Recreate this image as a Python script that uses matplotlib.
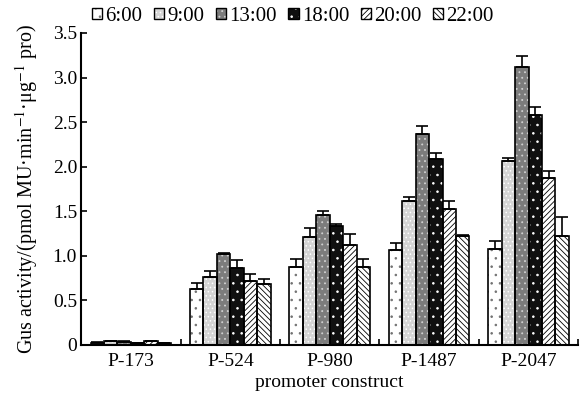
import numpy as np
import matplotlib
matplotlib.use("Agg")
import matplotlib.pyplot as plt
from matplotlib.patches import Patch
from matplotlib.legend_handler import HandlerTuple

plt.rcParams['font.family'] = ['Liberation Serif', 'DejaVu Serif']
plt.rcParams['mathtext.fontset'] = 'stix'
plt.rcParams['hatch.linewidth'] = 0.6

# Data
constructs = ['P-173', 'P-524', 'P-980', 'P-1487', 'P-2047']
times = ['6:00', '9:00', '13:00', '18:00', '20:00', '22:00']

# mean values per time point (one value per construct)
v_0600 = [0.02, 0.63, 0.87, 1.06, 1.08]
v_0900 = [0.04, 0.76, 1.21, 1.61, 2.06]
v_1300 = [0.03, 1.02, 1.46, 2.37, 3.12]
v_1800 = [0.02, 0.86, 1.33, 2.09, 2.58]
v_2000 = [0.04, 0.72, 1.12, 1.53, 1.87]
v_2200 = [0.02, 0.68, 0.87, 1.22, 1.22]

# upper error bars
e_0600 = [0.01, 0.07, 0.09, 0.08, 0.09]
e_0900 = [0.01, 0.07, 0.10, 0.05, 0.04]
e_1300 = [0.01, 0.01, 0.04, 0.09, 0.12]
e_1800 = [0.005, 0.09, 0.03, 0.06, 0.09]
e_2000 = [0.01, 0.08, 0.12, 0.09, 0.08]
e_2200 = [0.005, 0.06, 0.09, 0.01, 0.22]

values = [v_0600, v_0900, v_1300, v_1800, v_2000, v_2200]
errors = [e_0600, e_0900, e_1300, e_1800, e_2000, e_2200]

# face colour, hatch pattern, hatch colour for each time point
styles = [
    ('white', '..', '#707070'),
    ('#d4d4d4', '....', 'white'),
    ('#7c7c7c', '...', '#d0d0d0'),
    ('#101010', '..', 'white'),
    ('white', '//////', 'black'),
    ('white', '\\\\\\\\\\\\', 'black'),
]

fig = plt.figure(figsize=(5.8, 3.97), dpi=100)
ax = fig.add_axes([0.14, 0.131, 0.857, 0.786])

n = len(times)
width = 0.135
x = np.arange(len(constructs)) + 0.5

handles = []
for i in range(n):
    pos = x + (i - (n - 1) / 2) * width
    face, hatch, hcol = styles[i]
    # filled pattern layer
    ax.bar(pos, values[i], width, color=face, hatch=hatch, edgecolor=hcol, linewidth=0, zorder=2)
    # outline layer
    ax.bar(pos, values[i], width, facecolor='none', edgecolor='black', linewidth=1.2, zorder=3)
    ax.errorbar(pos, values[i], yerr=[np.zeros(len(constructs)), errors[i]], fmt='none',
                ecolor='black', elinewidth=1.2, capsize=4, capthick=1.2, zorder=4)
    handles.append((Patch(facecolor=face, hatch=hatch, edgecolor=hcol, linewidth=0),
                    Patch(facecolor='none', edgecolor='black', linewidth=1.0)))

ax.set_xlim(0, len(constructs))
ax.set_ylim(0, 3.5)
ax.set_yticks(np.arange(0, 3.51, 0.5))
ax.set_yticklabels(['0', '0.5', '1.0', '1.5', '2.0', '2.5', '3.0', '3.5'])
ax.set_xticks(x)
ax.set_xticklabels(constructs)
ax.set_xticks(np.arange(1, len(constructs) + 1), minor=True)
ax.tick_params(axis='x', which='major', length=0, labelsize=14, pad=6)
ax.tick_params(axis='x', which='minor', direction='in', length=4, width=1.2)
ax.tick_params(axis='y', direction='in', length=4, width=1.2, labelsize=14, pad=3)

ax.spines['top'].set_visible(False)
ax.spines['right'].set_visible(False)
ax.spines['left'].set_linewidth(1.5)
ax.spines['bottom'].set_linewidth(1.5)

ax.set_xlabel('promoter construct', fontsize=14, labelpad=3)
ax.set_ylabel('Gus activity/(pmol MU·min$^{-1}$·μg$^{-1}$ pro)', fontsize=14.5, labelpad=9)

fig.legend(handles, times, handler_map={tuple: HandlerTuple(ndivide=1, pad=0)},
           loc='upper center', bbox_to_anchor=(0.505, 1.03), ncol=6, frameon=False,
           fontsize=15, handlelength=0.5, handleheight=0.5, handletextpad=0.15,
           columnspacing=0.55)

fig.savefig('out.png', dpi=100)
plt.close()
